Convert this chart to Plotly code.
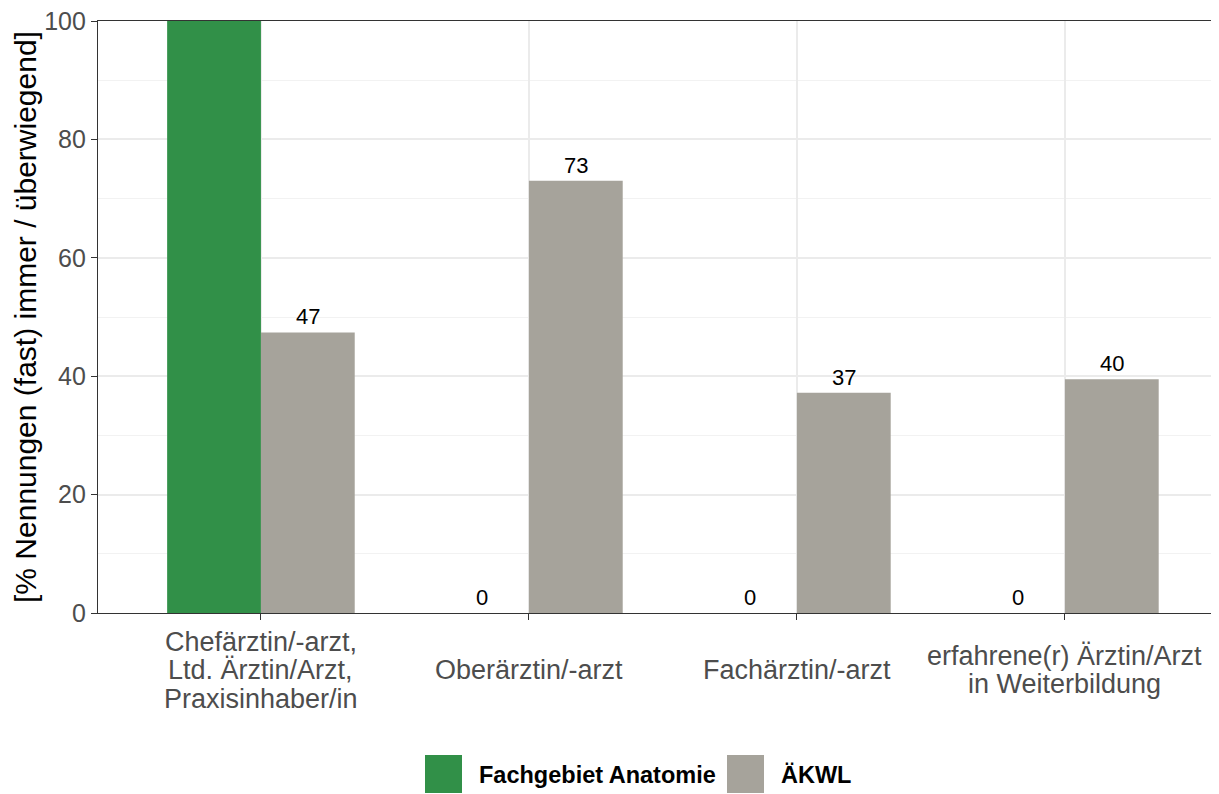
import plotly.graph_objects as go

categories = ["Chefärztin/-arzt,<br>Ltd. Ärztin/Arzt,<br>Praxisinhaber/in",
              "Oberärztin/-arzt",
              "Fachärztin/-arzt",
              "erfahrene(r) Ärztin/Arzt<br>in Weiterbildung"]
series_names = ["Fachgebiet Anatomie", "ÄKWL"]
anatomie = [100, 0, 0, 0]
aekwl = [47.4, 73.0, 37.2, 39.5]
series_values = [anatomie, aekwl]
colors = ["#319048", "#A6A39B"]
y_ticks = [0, 20, 40, 60, 80, 100]
y_title = "[% Nennungen (fast) immer / überwiegend]"

OFF = 8  # page body margin
W, H = 1219 - OFF, 794 - OFF
L, R, T, B = 98 - OFF, 0, 21 - OFF, 181
pw = W - L - R
ph = H - T - B
FONT = "Liberation Sans, Arial, sans-serif"

bw = 0.35
offsets = [-bw / 2, bw / 2]
idx = list(range(len(categories)))

fig = go.Figure()
annotations = []
for name, vals, col, off in zip(series_names, series_values, colors, offsets):
    xs = [i + off for i in idx]
    fig.add_trace(go.Bar(x=xs, y=vals, width=bw, marker=dict(color=col, line=dict(width=0)),
                         name=name, showlegend=False, hoverinfo="skip"))
    for x, v in zip(xs, vals):
        if v < 100:
            annotations.append(dict(x=x, y=v, xref="x", yref="y", text=f"{v:.0f}",
                                    showarrow=False, yanchor="bottom", yshift=1,
                                    font=dict(family=FONT, size=22, color="black")))

def py(p):
    # reference pixel y -> paper y
    return (T + ph - (p - OFF)) / ph
def px(p):
    return (p - OFF - L) / pw

# x category labels (multi-line with tight line spacing)
line_h = 28.5
center_px = 670
for i, cat in enumerate(categories):
    lines = cat.split("<br>")
    n = len(lines)
    for k, ln in enumerate(lines):
        cy = center_px + (k - (n - 1) / 2) * line_h
        annotations.append(dict(x=i, y=py(cy), xref="x", yref="paper", text=ln, showarrow=False,
                                xanchor="center", yanchor="middle",
                                font=dict(family=FONT, size=27, color="#4D4D4D")))

# y title
annotations.append(dict(x=px(25), y=py(317), xref="paper", yref="paper", text=y_title, showarrow=False,
                        textangle=-90, xanchor="center", yanchor="middle",
                        font=dict(family=FONT, size=30, color="black")))

# legend (drawn manually for large keys)
shapes = []
leg_items = [(425, 477), (727, 779)]
for (sx, tx), name, col in zip(leg_items, series_names, colors):
    shapes.append(dict(type="rect", xref="paper", yref="paper", x0=px(sx), x1=px(sx + 37),
                       y0=py(793), y1=py(755), fillcolor=col, line=dict(width=0)))
    annotations.append(dict(x=px(tx), y=py(775), xref="paper", yref="paper", text=f"<b>{name}</b>",
                            showarrow=False, xanchor="left", yanchor="middle",
                            font=dict(family=FONT, size=23.5, color="black")))

fig.update_layout(
    width=W, height=H,
    margin=dict(l=L, r=R, t=T, b=B, pad=0),
    paper_bgcolor="white", plot_bgcolor="white",
    barmode="overlay",
    showlegend=False,
    annotations=annotations,
    shapes=shapes,
    font=dict(family=FONT),
)
fig.update_xaxes(range=[-0.608, 3.575], tickvals=idx, ticktext=[""] * len(idx), showticklabels=False,
                 showgrid=True, gridcolor="#EBEBEB", gridwidth=2, zeroline=False,
                 showline=True, linecolor="#333333", linewidth=1.2, mirror=True,
                 ticks="outside", ticklen=6, tickcolor="#333333", tickwidth=1.2)
fig.update_yaxes(range=[0, 100], tickvals=y_ticks, showgrid=True, gridcolor="#EBEBEB", gridwidth=1.5,
                 minor=dict(dtick=10, showgrid=True, gridcolor="#F2F2F2", gridwidth=0.8, tick0=0),
                 zeroline=False, showline=True, linecolor="#333333", linewidth=1.2,
                 ticks="outside", ticklen=6, tickcolor="#333333", tickwidth=1.2,
                 ticklabeloverflow="allow",
                 tickfont=dict(family=FONT, size=25, color="#4D4D4D"))

fig.write_html("out.html")
